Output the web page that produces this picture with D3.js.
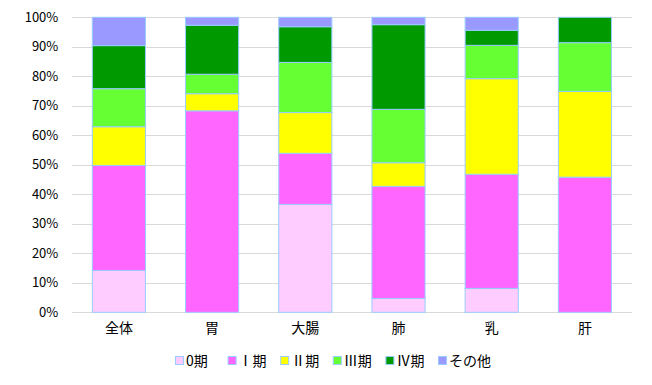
<!DOCTYPE html>
<html><head><meta charset="utf-8">
<script src="https://cdn.jsdelivr.net/npm/d3@7"></script>
<style>body{margin:0;background:#fff}</style>
</head><body>
<svg id="c" width="652" height="385"></svg>
<script>
const categories = ["全体","胃","大腸","肺","乳","肝"];
const seriesNames = ["0期","Ⅰ期","Ⅱ期","Ⅲ期","Ⅳ期","その他"];
const s0 = [14.2, 0, 36.6, 4.7, 8.1, 0];
const s1 = [35.6, 68.3, 17.3, 38.0, 38.7, 45.8];
const s2 = [13.1, 5.8, 13.8, 8.0, 32.4, 29.1];
const s3 = [12.9, 6.6, 17.0, 18.1, 11.3, 16.5];
const s4 = [14.6, 16.6, 12.1, 28.7, 5.1, 8.6];
const s5 = [9.6, 2.7, 3.2, 2.5, 4.4, 0];
const yTicks = [0,10,20,30,40,50,60,70,80,90,100];
const colors = ["#ffccff","#ff66ff","#ffff00","#66ff33","#009900","#9999ff"];

const series = [s0,s1,s2,s3,s4,s5];
const data = categories.map((c,i)=>{const o={cat:c}; seriesNames.forEach((n,j)=>o[n]=series[j][i]); return o;});
const stack = d3.stack().keys(seriesNames)(data);

const svg = d3.select("#c");
const L=72.3, R=631.5, T=17.3, B=312.3;
const x = d3.scaleBand().domain(categories).range([L,R]).paddingInner(0.43).paddingOuter(0.215);
const y = d3.scaleLinear().domain([0,100]).range([B,T]);
const font = "'Noto Sans CJK JP', sans-serif";

const g = svg.append("g");
const yAxis = d3.axisLeft(y).tickValues(yTicks).tickFormat(d=>d+"%").tickSize(-(R-L)).tickPadding(14);
const ya = g.append("g").attr("transform",`translate(${L},0)`).call(yAxis);
ya.select(".domain").remove();
ya.selectAll("line").attr("stroke","#d9d9d9").attr("shape-rendering","crispEdges");
ya.selectAll("text").attr("font-family",font).attr("font-size","13px").attr("fill","#000");

const layers = g.selectAll("g.layer").data(stack).join("g").attr("class","layer")
  .attr("fill",(d,i)=>colors[i]);
layers.selectAll("rect").data(d=>d.filter(p=>p[1]-p[0]>0)).join("rect")
  .attr("x",d=>x(d.data.cat)).attr("width",x.bandwidth())
  .attr("y",d=>y(d[1])).attr("height",d=>y(d[0])-y(d[1]))
  .attr("stroke","#99ccff").attr("stroke-width",1);

const xAxis = d3.axisBottom(x).tickSize(0).tickPadding(11);
const xa = g.append("g").attr("transform",`translate(0,${B})`).call(xAxis);
xa.select(".domain").remove();
xa.selectAll("text").attr("font-family",font).attr("font-size","14px").attr("fill","#000");

const leg = svg.append("g").attr("transform","translate(175,361)");
const li = leg.selectAll("g").data(seriesNames).join("g")
  .attr("transform",(d,i)=>`translate(${i*52.6},0)`);
li.append("rect").attr("x",0.5).attr("y",-4.5).attr("width",8).attr("height",8)
  .attr("fill",(d,i)=>colors[i]).attr("stroke","#99ccff").attr("stroke-width",1);
li.append("text").attr("x",11).attr("y",0).attr("dy","0.35em")
  .attr("font-family",font).attr("font-size","14px").attr("fill","#000").text(d=>d);
</script>
</body></html>
